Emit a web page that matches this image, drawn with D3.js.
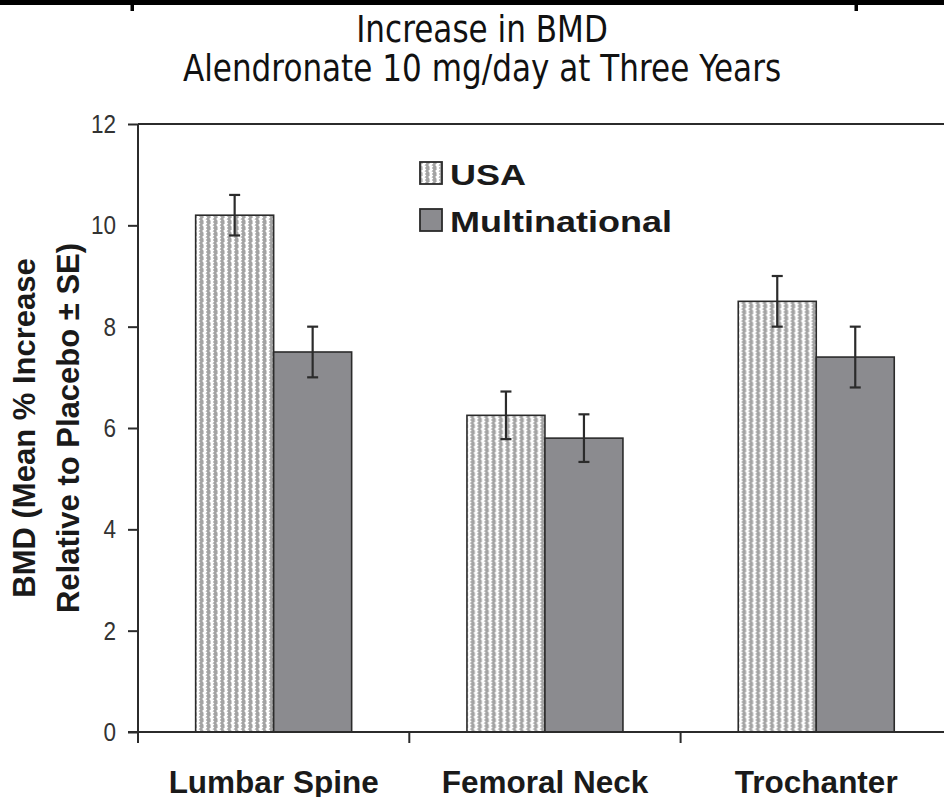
<!DOCTYPE html>
<html>
<head>
<meta charset="utf-8">
<script src="https://cdn.jsdelivr.net/npm/d3@7"></script>
<style>
  html, body { margin: 0; padding: 0; background: #fff; }
  svg { display: block; }
</style>
</head>
<body>
<svg id="chart" width="944" height="797"></svg>
<script>
// Data
const categories = ["Lumbar Spine", "Femoral Neck", "Trochanter"];
const seriesNames = ["USA", "Multinational"];
const usaValues = [10.2, 6.25, 8.5];
const usaErrors = [0.4, 0.47, 0.5];
const multiValues = [7.5, 5.8, 7.4];
const multiErrors = [0.5, 0.47, 0.6];
const yTicks = [0, 2, 4, 6, 8, 10, 12];
const titleLines = ["Increase in BMD", "Alendronate 10 mg/day at Three Years"];
const yLabelLines = ["BMD (Mean % Increase", "Relative to Placebo \u00b1 SE)"];

const rows = categories.map((c, i) => ({
  category: c,
  bars: [
    { series: "USA", value: usaValues[i], err: usaErrors[i] },
    { series: "Multinational", value: multiValues[i], err: multiErrors[i] }
  ]
}));

const svg = d3.select("#chart");
const W = 944, H = 797;
const axisX = 138, axisBottom = 732, axisTop = 124;
const ink = "#2b2b2b";
const multiFill = "#8b8b8f";

// Fill pattern for the USA bars: white wavy vertical lines on grey
const defs = svg.append("defs");
const pat = defs.append("pattern")
  .attr("id", "usaFill")
  .attr("patternUnits", "userSpaceOnUse")
  .attr("width", 7).attr("height", 6);
pat.append("rect").attr("width", 7).attr("height", 6).attr("fill", "#a3a3a3");
pat.append("path")
  .attr("d", "M3,0 L4.5,1.5 L3,3 L4.5,4.5 L3,6")
  .attr("fill", "none").attr("stroke", "#ffffff").attr("stroke-width", 2.6);

// Scales
const x = d3.scaleBand().domain(categories).range([axisX, axisX + 3 * 271.3]).padding(0);
const barW = 78;
const xs = d3.scaleBand().domain(seriesNames)
  .range([x.bandwidth() / 2 - barW, x.bandwidth() / 2 + barW]).padding(0);
const y = d3.scaleLinear().domain([0, 12]).range([axisBottom, axisTop]);

// Rule across the top of the page
svg.append("rect").attr("x", 0).attr("y", 0).attr("width", W).attr("height", 5).attr("fill", "#000");
[132, 856].forEach(px => {
  svg.append("rect").attr("x", px - 1.5).attr("y", 0).attr("width", 3.5).attr("height", 11).attr("fill", "#000");
});

// Title (narrow lettering)
const titleCx = 482;
titleLines.forEach((t, i) => {
  svg.append("text")
    .attr("transform", `translate(${titleCx},${42 + i * 39}) scale(0.84,1)`)
    .attr("text-anchor", "middle")
    .attr("font-family", "DejaVu Sans").attr("font-size", 37).attr("fill", "#111")
    .text(t);
});

// Bars
const groups = svg.append("g").selectAll("g").data(rows).join("g")
  .attr("transform", d => `translate(${x(d.category)},0)`);

groups.selectAll("rect").data(d => d.bars).join("rect")
  .attr("x", d => xs(d.series))
  .attr("y", d => y(d.value))
  .attr("width", xs.bandwidth())
  .attr("height", d => y(0) - y(d.value))
  .attr("fill", d => d.series === "USA" ? "url(#usaFill)" : multiFill)
  .attr("stroke", ink).attr("stroke-width", 1.6);

// Error bars
const eb = groups.selectAll("g.err").data(d => d.bars).join("g").attr("class", "err")
  .attr("stroke", ink).attr("stroke-width", 2.2);
eb.append("line")
  .attr("x1", d => xs(d.series) + xs.bandwidth() / 2)
  .attr("x2", d => xs(d.series) + xs.bandwidth() / 2)
  .attr("y1", d => y(d.value - d.err)).attr("y2", d => y(d.value + d.err));
[-1, 1].forEach(s => {
  eb.append("line")
    .attr("x1", d => xs(d.series) + xs.bandwidth() / 2 - 5.5)
    .attr("x2", d => xs(d.series) + xs.bandwidth() / 2 + 5.5)
    .attr("y1", d => y(d.value + s * d.err)).attr("y2", d => y(d.value + s * d.err));
});

// Y axis
const yAxis = d3.axisLeft(y).tickValues(yTicks).tickSize(10).tickPadding(10).tickSizeOuter(0);
const gy = svg.append("g").attr("transform", `translate(${axisX},0)`).call(yAxis);
gy.select(".domain").attr("stroke", ink).attr("stroke-width", 2).attr("d", `M0,${axisTop}V${axisBottom + 11}`);
gy.selectAll(".tick line").attr("stroke", ink).attr("stroke-width", 2);
gy.selectAll(".tick text")
  .attr("x", null)
  .attr("transform", "translate(-22,0) scale(0.85,1)")
  .attr("font-family", "Liberation Sans").attr("font-size", 26.5).attr("fill", "#333");

// Frame line along the top of the plot
svg.append("line").attr("x1", axisX).attr("x2", W).attr("y1", axisTop).attr("y2", axisTop)
  .attr("stroke", ink).attr("stroke-width", 2);

// X axis
svg.append("line").attr("x1", axisX - 10).attr("x2", W).attr("y1", axisBottom).attr("y2", axisBottom)
  .attr("stroke", ink).attr("stroke-width", 2);
categories.slice(1).forEach(c => {
  svg.append("line").attr("x1", x(c)).attr("x2", x(c))
    .attr("y1", axisBottom).attr("y2", axisBottom + 11)
    .attr("stroke", ink).attr("stroke-width", 2);
});
svg.append("g").selectAll("text").data(categories).join("text")
  .attr("x", d => x(d) + x.bandwidth() / 2)
  .attr("y", 793)
  .attr("text-anchor", "middle")
  .attr("font-family", "Liberation Sans").attr("font-weight", "bold").attr("font-size", 31.5)
  .attr("fill", "#1a1a1a")
  .text(d => d);

// Y axis label
const yl = svg.append("text")
  .attr("transform", `translate(0,428) rotate(-90)`)
  .attr("text-anchor", "middle")
  .attr("font-family", "Liberation Sans").attr("font-weight", "bold").attr("font-size", 31)
  .attr("fill", "#1a1a1a");
yLabelLines.forEach((t, i) => {
  yl.append("tspan").attr("x", 0).attr("y", 35 + i * 44).text(t);
});

// Legend (wide lettering)
const legend = svg.append("g");
const legendItems = [
  { name: "USA", fill: "url(#usaFill)", y: 162 },
  { name: "Multinational", fill: multiFill, y: 209 }
];
legend.selectAll("rect").data(legendItems).join("rect")
  .attr("x", 420).attr("y", d => d.y).attr("width", 22).attr("height", 22)
  .attr("fill", d => d.fill).attr("stroke", ink).attr("stroke-width", 1.8);
legend.selectAll("text").data(legendItems).join("text")
  .attr("transform", d => `translate(450,${d.y + 23}) scale(1.2,1)`)
  .attr("font-family", "Liberation Sans").attr("font-weight", "bold").attr("font-size", 30)
  .attr("fill", "#1a1a1a")
  .text(d => d.name);
</script>
</body>
</html>
